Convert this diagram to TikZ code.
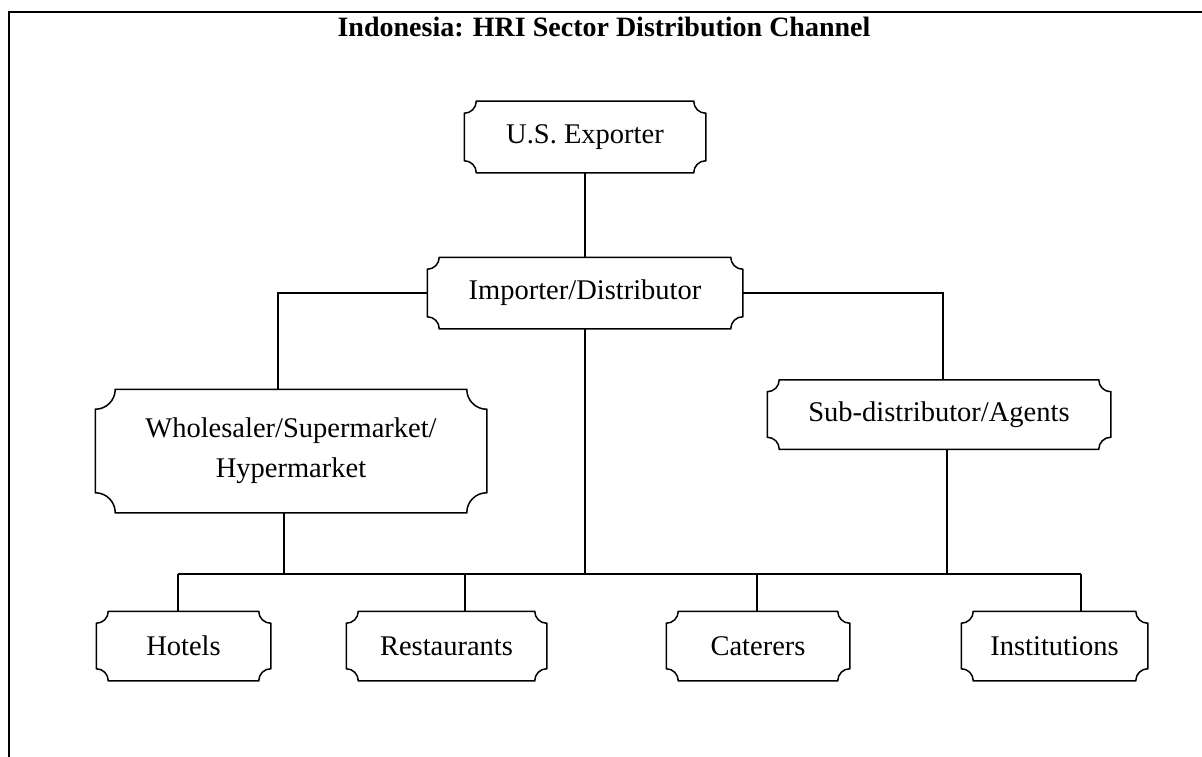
\documentclass[tikz,border=0pt]{standalone}
\usepackage{fontspec}
\setmainfont{Liberation Serif}
\usepackage{tikz}
\newcommand{\boxFont}[0]{\fontsize{28.5}{40}\selectfont}
\newcommand{\plaque}[2]{%
  \draw ([xshift=#2]#1.north west) -- ([xshift=-#2]#1.north east)
    arc[start angle=180, end angle=270, radius=#2]
    -- ([yshift=#2]#1.south east)
    arc[start angle=90, end angle=180, radius=#2]
    -- ([xshift=#2]#1.south west)
    arc[start angle=0, end angle=90, radius=#2]
    -- ([yshift=-#2]#1.north west)
    arc[start angle=270, end angle=360, radius=#2] -- cycle;}

\begin{document}
\begin{tikzpicture}[x=1pt, y=1pt, line width=1.5pt]
  \tikzset{chanbox/.style={inner sep=0pt, align=center, font=\boxFont, minimum height=68pt}}
  \useasboundingbox (0,0) rectangle (1202,-757);
  % frame
  \draw[line width=2.6pt] (1202,-12) -- (9,-12) -- (9,-757);
  \node[anchor=base, font=\fontsize{28}{32}\selectfont\bfseries] (title) at (604,-36.7)
    {Indonesia: HRI Sector Distribution Channel};
  % boxes
  \node[chanbox, minimum width=240pt, minimum height=70pt] (exporter) at (585,-137) {U.S. Exporter};
  \node[chanbox, minimum width=314pt, minimum height=70pt] (importer) at (585,-293) {Importer/Distributor};
  \node[chanbox, minimum width=390pt, minimum height=122pt] (wholesaler) at (291,-451)
    {Wholesaler/Supermarket/\\Hypermarket};
  \node[chanbox, minimum width=342pt] (subdist) at (939,-414.5) {Sub-distributor/Agents};
  \node[chanbox, minimum width=173pt] (hotels) at (183.5,-646) {Hotels};
  \node[chanbox, minimum width=199pt] (restaurants) at (446.5,-646) {Restaurants};
  \node[chanbox, minimum width=182pt] (caterers) at (758,-646) {Caterers};
  \node[chanbox, minimum width=185pt] (institutions) at (1054.5,-646) {Institutions};
  \plaque{exporter}{12pt}
  \plaque{importer}{12pt}
  \plaque{wholesaler}{20pt}
  \plaque{subdist}{12pt}
  \plaque{hotels}{12pt}
  \plaque{restaurants}{12pt}
  \plaque{caterers}{12pt}
  \plaque{institutions}{12pt}
  % bus to the outlets
  \coordinate (drop1) at (178,-574);
  \coordinate (drop2) at (465,-574);
  \coordinate (drop3) at (757,-574);
  \coordinate (drop4) at (1081,-574);
  % connectors
  \draw (exporter.south) -- (importer.north);
  \draw (importer.west) -| ([xshift=-13pt]wholesaler.north);
  \draw (importer.east) -| ([xshift=4pt]subdist.north);
  \draw (importer.south) -- (importer.south |- drop1);
  \draw ([xshift=-7pt]wholesaler.south) -- ([xshift=-7pt]wholesaler.south |- drop1);
  \draw ([xshift=8pt]subdist.south) -- ([xshift=8pt]subdist.south |- drop1);
  \draw (drop1) -- (drop4);
  \draw (drop1) -- (drop1 |- hotels.north);
  \draw (drop2) -- (drop2 |- restaurants.north);
  \draw (drop3) -- (drop3 |- caterers.north);
  \draw (drop4) -- (drop4 |- institutions.north);
\end{tikzpicture}
\end{document}
